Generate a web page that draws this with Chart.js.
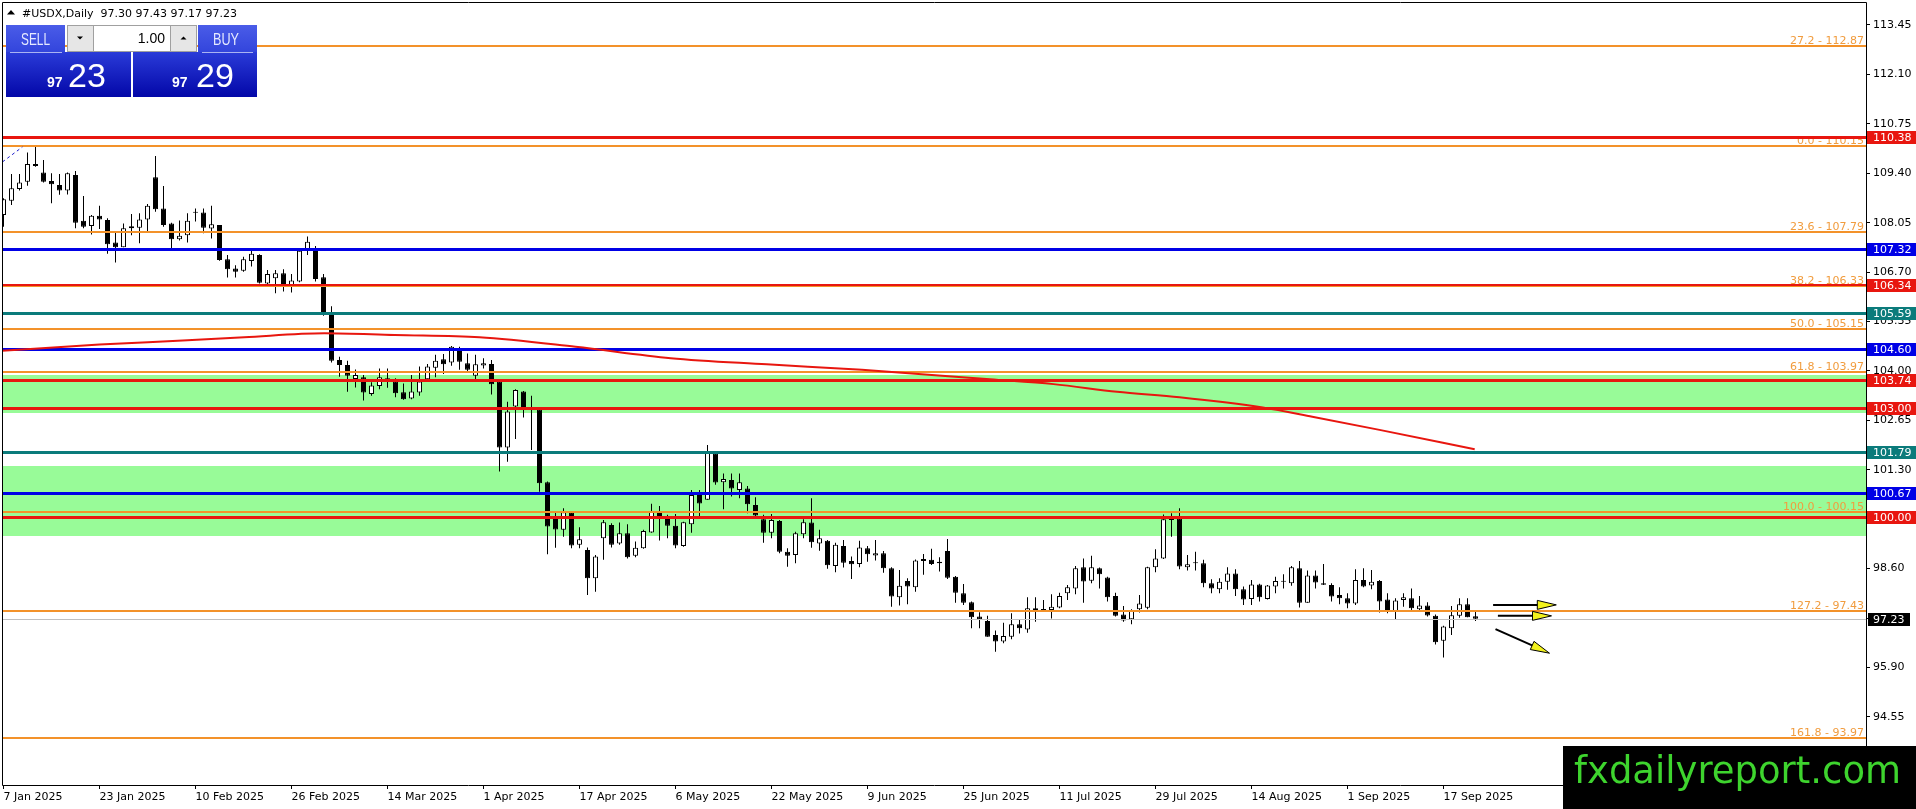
<!DOCTYPE html>
<html><head><meta charset="utf-8">
<script src="https://cdn.jsdelivr.net/npm/chart.js@4.4.1/dist/chart.umd.min.js"></script>
<style>
html,body{margin:0;padding:0;background:#fff;overflow:hidden}
#wrap{position:relative;width:1916px;height:809px}
#c{position:absolute;left:0;top:0}
#ov{position:absolute;left:0;top:0;pointer-events:none}
</style></head><body>
<div id="wrap">
<canvas id="c" width="1916" height="809"></canvas>
<svg id="ov" width="1916" height="809" xmlns="http://www.w3.org/2000/svg">
<defs>
<linearGradient id="gTab" x1="0" y1="0" x2="0" y2="1"><stop offset="0" stop-color="#4a5ce8"/><stop offset="1" stop-color="#3345dc"/></linearGradient>
<linearGradient id="gBody" x1="0" y1="0" x2="0" y2="1"><stop offset="0" stop-color="#2a3bd8"/><stop offset="1" stop-color="#0307a8"/></linearGradient>
</defs>
<polygon points="7,14.5 15,14.5 11,10" fill="#000"/>
<text id="hdr" x="22" y="17" font-family="DejaVu Sans" font-size="11" fill="#000" style="white-space:pre">#USDX,Daily</text>
<rect x="6" y="25" width="59" height="27" fill="url(#gTab)"/>
<rect x="6" y="52" width="125" height="45" fill="url(#gBody)"/>
<line x1="10" y1="52.5" x2="62" y2="52.5" stroke="#aab3f2"/>
<text x="21" y="45" font-family="Liberation Sans" font-size="17" fill="#e6eaff" textLength="29" lengthAdjust="spacingAndGlyphs">SELL</text>
<text x="47" y="87" fill="#fff"><tspan id="sellA" font-family="Liberation Sans" font-weight="bold" font-size="14">97</tspan><tspan id="sellB" x="68" font-family="Liberation Sans" font-size="34">23</tspan></text>
<rect x="67.5" y="25.5" width="129" height="26" fill="#fff" stroke="#a0a0a0"/>
<rect x="67.5" y="25.5" width="26" height="26" fill="#e6e6e6" stroke="#a0a0a0"/>
<rect x="170.5" y="25.5" width="26" height="26" fill="#e6e6e6" stroke="#a0a0a0"/>
<polygon points="77,36.5 83,36.5 80,39.5" fill="#000"/>
<polygon points="180.5,39.5 186.5,39.5 183.5,36.5" fill="#000"/>
<text x="165" y="43" text-anchor="end" font-family="Liberation Sans" font-size="14" fill="#000">1.00</text>
<rect x="198" y="25" width="59" height="27" fill="url(#gTab)"/>
<rect x="133" y="52" width="124" height="45" fill="url(#gBody)"/>
<line x1="202" y1="52.5" x2="253" y2="52.5" stroke="#aab3f2"/>
<text x="213" y="45" font-family="Liberation Sans" font-size="17" fill="#e6eaff" textLength="26" lengthAdjust="spacingAndGlyphs">BUY</text>
<text x="172" y="87" fill="#fff"><tspan id="buyA" font-family="Liberation Sans" font-weight="bold" font-size="14">97</tspan><tspan id="buyB" x="196" font-family="Liberation Sans" font-size="34">29</tspan></text>
<rect x="1563" y="746" width="353" height="63" fill="#000"/>
<text x="1574" y="783" font-family="DejaVu Sans" font-size="37" fill="#3ed42e" textLength="327" lengthAdjust="spacingAndGlyphs">fxdailyreport.com</text>
</svg>
</div>
<script>
// ---------- DATA ----------
const symbolName = '#USDX,Daily';
const xTickBars = [0,12,24,36,48,60,72,84,96,108,120,132,144,156,168,180];
const xTickLabels = ['7 Jan 2025','23 Jan 2025','10 Feb 2025','26 Feb 2025','14 Mar 2025','1 Apr 2025','17 Apr 2025','6 May 2025','22 May 2025','9 Jun 2025','25 Jun 2025','11 Jul 2025','29 Jul 2025','14 Aug 2025','1 Sep 2025','17 Sep 2025'];
const yTickValues = [113.45,112.10,110.75,109.40,108.05,106.70,105.35,104.00,102.65,101.30,99.95,98.60,97.25,95.90,94.55];

const opens = [108.26,108.65,108.97,109.17,109.65,109.42,109.19,109.08,108.93,109.35,108.10,107.96,108.24,108.12,107.51,107.38,107.90,107.91,108.14,109.29,
108.44,108.03,107.60,107.71,108.35,108.33,107.89,107.99,107.05,106.80,106.74,107.00,107.17,106.39,106.53,106.67,106.29,106.44,107.29,107.32,
106.56,105.56,104.30,104.16,103.78,103.83,103.37,103.59,103.80,103.71,103.42,103.25,103.41,103.77,104.09,104.32,104.23,104.57,104.21,103.87,
104.15,104.19,103.71,101.91,103.03,103.44,102.96,102.95,100.96,99.98,99.66,100.14,99.25,99.11,98.34,99.43,99.79,99.29,99.57,98.95,
99.16,99.59,100.16,99.98,99.77,99.22,99.81,100.68,100.48,101.75,100.96,101.02,100.75,100.79,100.34,99.95,99.58,99.90,99.06,98.97,
99.54,99.86,99.29,99.36,98.67,99.22,98.81,98.73,99.16,98.96,99.02,98.61,97.82,98.26,98.09,98.81,98.84,98.79,99.08,98.38,
97.93,97.68,97.29,97.17,96.79,96.61,96.74,97.08,96.94,97.52,97.47,97.47,97.54,97.93,98.06,98.64,98.27,98.61,98.36,97.85,
97.35,97.22,97.49,97.53,98.64,98.88,99.93,99.97,98.64,98.76,98.75,98.20,98.04,98.24,98.47,98.04,97.77,98.17,97.77,98.11,
98.24,98.20,98.61,97.67,98.41,98.20,98.15,97.88,97.79,97.65,98.29,98.14,98.26,97.76,97.43,97.74,97.79,97.49,97.59,97.31,
96.63,96.97,97.31,97.63,97.30];
const highs = [108.72,109.38,109.38,109.97,110.15,109.76,109.40,109.38,109.42,109.46,108.78,108.26,108.51,108.17,107.81,108.03,108.29,108.31,108.56,109.87,
109.05,108.05,108.11,108.31,108.44,108.44,108.51,107.99,107.17,106.89,107.12,107.30,107.19,106.76,106.76,106.78,106.65,107.30,107.67,107.41,
106.65,105.77,104.39,104.28,104.04,103.89,103.69,104.07,104.07,103.80,103.66,103.89,104.12,104.19,104.44,104.46,104.68,104.66,104.48,104.44,
104.35,104.30,103.74,103.16,103.50,103.45,103.32,102.97,100.98,100.13,100.25,100.16,99.73,99.18,98.97,99.93,99.84,99.86,99.81,99.34,
99.66,100.37,100.31,100.07,100.09,99.88,100.75,100.75,101.98,101.77,101.20,101.20,101.20,100.86,100.55,100.07,100.09,99.93,99.16,99.61,
99.95,100.52,99.66,99.38,99.31,99.38,98.93,99.36,99.22,99.38,99.08,98.64,98.56,98.34,98.85,99.00,99.14,98.91,99.41,98.40,
98.18,97.70,97.41,97.31,96.91,97.12,97.38,97.20,97.82,97.82,97.74,97.90,97.94,98.15,98.67,98.88,98.95,98.63,98.38,97.94,
97.58,97.49,97.88,98.65,99.13,100.08,100.11,100.25,98.97,99.06,98.84,98.31,98.34,98.64,98.58,98.11,98.29,98.19,98.15,98.38,
98.45,98.67,98.81,98.55,98.55,98.73,98.20,98.09,97.93,98.58,98.61,98.56,98.29,97.93,97.79,97.93,98.06,97.85,97.68,97.35,
97.04,97.58,97.79,97.79,97.43];
const lows = [107.94,108.53,108.93,109.06,109.58,109.15,108.58,108.81,108.82,107.90,107.90,107.73,107.88,107.20,106.96,107.38,107.71,107.49,107.81,108.35,
107.94,107.29,107.56,107.51,108.08,107.76,107.62,107.01,106.55,106.55,106.71,106.85,106.39,106.30,106.12,106.17,106.14,106.42,107.17,106.44,
105.51,104.23,103.84,103.43,103.55,103.19,103.32,103.50,103.54,103.28,103.21,103.23,103.32,103.75,103.83,103.92,104.14,104.03,103.98,103.77,
104.07,103.36,101.25,101.52,102.14,102.73,101.84,100.70,98.99,99.17,99.47,99.16,99.16,97.88,97.97,98.84,99.18,99.25,98.88,98.91,
99.14,99.58,99.37,99.43,99.16,99.20,99.58,100.04,100.48,100.89,100.22,100.57,100.52,100.11,100.04,99.31,99.43,99.02,98.65,98.75,
99.43,99.17,99.09,98.60,98.50,98.63,98.32,98.64,98.79,98.82,98.49,97.56,97.59,97.63,97.97,98.43,98.70,98.52,98.32,97.67,
97.61,96.97,96.97,96.74,96.33,96.56,96.67,96.83,96.85,97.15,97.43,97.24,97.52,97.74,97.90,97.67,98.20,98.06,97.70,97.29,
97.15,97.08,97.40,97.49,98.50,98.86,99.47,98.58,98.55,98.55,98.09,97.93,97.93,98.02,97.85,97.61,97.61,97.70,97.76,97.93,
98.06,98.13,97.54,97.67,98.06,98.15,97.70,97.63,97.52,97.61,98.09,98.04,97.40,97.38,97.22,97.56,97.47,97.47,97.29,96.53,
96.17,96.79,97.26,97.27,97.17];
const closes = [108.69,108.99,109.15,109.65,109.60,109.17,109.10,108.93,109.40,108.05,107.94,108.24,108.14,107.46,107.38,107.90,107.95,108.14,108.51,108.42,
107.99,107.60,107.69,108.10,108.32,107.91,108.01,107.03,106.78,106.71,107.05,107.20,106.41,106.65,106.67,106.29,106.47,107.28,107.53,106.51,
105.53,104.28,104.16,103.87,103.89,103.41,103.60,103.83,103.77,103.39,103.23,103.44,103.71,104.12,104.28,104.18,104.66,104.25,104.03,104.18,
104.21,103.64,101.91,102.89,103.48,102.95,102.94,100.93,99.75,99.67,100.14,99.23,99.40,98.34,98.93,99.87,99.25,99.57,98.91,99.17,
99.63,100.16,100.04,99.77,99.23,99.87,100.61,100.38,101.80,100.95,101.05,100.79,100.96,100.36,100.05,99.58,99.93,99.06,98.95,99.57,
99.87,99.32,99.43,98.69,99.25,98.76,98.72,99.18,98.99,99.02,98.61,97.84,98.13,98.11,98.82,98.86,98.73,98.75,98.35,97.94,
97.67,97.27,97.22,96.74,96.61,96.76,97.08,96.97,97.52,97.47,97.49,97.56,97.85,98.09,98.61,98.25,98.64,98.45,97.82,97.31,
97.18,97.47,97.65,98.64,98.88,99.95,99.99,98.66,98.72,98.75,98.20,98.06,98.24,98.47,98.04,97.76,98.17,97.82,98.14,98.26,
98.26,98.64,97.67,98.41,98.22,98.16,97.84,97.79,97.65,98.29,98.11,98.24,97.70,97.47,97.73,97.82,97.52,97.59,97.32,96.59,
97.02,97.33,97.63,97.27,97.23];

const maBars   = [-0.25, 12, 22.4, 30.1, 40.1, 48.9, 59.5, 71.5, 83.4, 95.4, 107.3, 123.3, 131.25, 139.2, 147, 157.4, 163.6, 172, 183.9];
const maValues = [104.55,104.72,104.83,104.92,105.03,104.98,104.92,104.66,104.35,104.18,104.03,103.77,103.64,103.43,103.28,103.00,102.75,102.39,101.86];

const trendBars = [-0.125, 2.375];
const trendValues = [109.71, 110.12];

const fibRatios = ['27.2','0.0','23.6','38.2','50.0','61.8','100.0','127.2','161.8'];
const fibPrices = [112.87,110.15,107.79,106.33,105.15,103.97,100.15,97.43,93.97];

const levelPrices = [110.38,107.32,106.34,105.59,104.60,103.74,103.00,101.79,100.67,100.00];
const levelKinds  = ['red','blue','redThin','teal','blue','red','red','teal','blue','red'];

const zoneTops    = [103.90, 101.40];
const zoneBottoms = [102.85, 99.49];

const bidPrice = 97.23;
const askPrice = 97.29;

const arrowFromBars   = [186.2, 186.8, 186.5];
const arrowFromPrices = [97.61, 97.31, 96.95];
const arrowToBars     = [194.1, 193.5, 193.25];
const arrowToPrices   = [97.61, 97.31, 96.29];

// ---------- STYLES ----------
const KIND = {
  red:     {color:'#e8160f', width:3},
  redThin: {color:'#e8160f', width:2},
  blue:    {color:'#0000e6', width:3},
  teal:    {color:'#0b7b7b', width:3}
};
const FIB_COLOR = '#f3922a';
const FIB_TEXT = '#f19c3e';
const ZONE_COLOR = '#98fb98';
const FONT = '11px "DejaVu Sans"';

// header & panel texts from data
const n = opens.length - 1;
document.getElementById('hdr').textContent = symbolName + '  ' + [opens[n],highs[n],lows[n],closes[n]].map(v=>v.toFixed(2)).join(' ');
const split = v => v.toFixed(2).split('.');
document.getElementById('sellA').textContent = split(bidPrice)[0];
document.getElementById('sellB').textContent = split(bidPrice)[1];
document.getElementById('buyA').textContent = split(askPrice)[0];
document.getElementById('buyB').textContent = split(askPrice)[1];

// ---------- PLUGINS ----------
function yPix(chart, p){ return Math.round(chart.scales.y.getPixelForValue(p)); }

const zonesPlugin = {
  id:'zones',
  beforeDatasetsDraw(chart){
    const {ctx, chartArea:a} = chart;
    ctx.save();
    ctx.fillStyle = ZONE_COLOR;
    for (let k=0;k<zoneTops.length;k++){
      const t = yPix(chart, zoneTops[k]), b = yPix(chart, zoneBottoms[k]);
      ctx.fillRect(a.left, t, a.right-a.left, b-t);
    }
    ctx.restore();
  }
};

function drawLevels(chart){
  const {ctx, chartArea:a} = chart;
  const w = a.right - a.left;
  ctx.save();
  ctx.fillStyle = '#c0c0c0';
  ctx.fillRect(a.left, yPix(chart,bidPrice), w, 1);
  ctx.font = FONT;
  ctx.textAlign = 'right';
  ctx.textBaseline = 'alphabetic';
  for (let k=0;k<fibPrices.length;k++){
    const y = yPix(chart, fibPrices[k]);
    ctx.fillStyle = FIB_COLOR;
    ctx.fillRect(a.left, y-1, w, 2);
  }
  for (let k=0;k<fibPrices.length;k++){
    const y = yPix(chart, fibPrices[k]);
    ctx.fillStyle = FIB_TEXT;
    ctx.fillText(fibRatios[k] + ' - ' + fibPrices[k].toFixed(2), a.right-2, y-2);
  }
  for (let k=0;k<levelPrices.length;k++){
    const s = KIND[levelKinds[k]];
    const y = yPix(chart, levelPrices[k]);
    ctx.fillStyle = s.color;
    ctx.fillRect(a.left, y - Math.floor(s.width/2), w, s.width);
  }
  ctx.restore();
}

const levelsPlugin = {
  id:'levels',
  beforeDatasetDraw(chart, args){
    if (chart.data.datasets[args.index].id === 'trend') drawLevels(chart);
  },
  afterDatasetsDraw(chart){
    const {ctx, chartArea:a} = chart;
    ctx.save();
    const xs = chart.scales.x, ys = chart.scales.y;
    for (let k=0;k<arrowFromBars.length;k++){
      const x1 = xs.getPixelForValue(arrowFromBars[k]), y1 = ys.getPixelForValue(arrowFromPrices[k]);
      const x2 = xs.getPixelForValue(arrowToBars[k]),   y2 = ys.getPixelForValue(arrowToPrices[k]);
      const dx = x2-x1, dy = y2-y1, L = Math.hypot(dx,dy), ux = dx/L, uy = dy/L;
      const hl = 19, hw = 4.5;
      const bx = x2 - ux*hl, by = y2 - uy*hl;
      ctx.strokeStyle = '#000'; ctx.lineWidth = 2;
      ctx.beginPath(); ctx.moveTo(x1,y1); ctx.lineTo(bx+ux*3,by+uy*3); ctx.stroke();
      ctx.beginPath();
      ctx.moveTo(x2,y2);
      ctx.lineTo(bx - uy*hw, by + ux*hw);
      ctx.lineTo(bx + uy*hw, by - ux*hw);
      ctx.closePath();
      ctx.fillStyle = '#f2f21c'; ctx.fill();
      ctx.lineWidth = 1; ctx.strokeStyle = '#000'; ctx.stroke();
    }
    ctx.font = FONT;
    ctx.textAlign = 'left';
    ctx.textBaseline = 'middle';
    for (let k=0;k<levelPrices.length;k++){
      const y = yPix(chart, levelPrices[k]);
      ctx.fillStyle = KIND[levelKinds[k]].color;
      ctx.fillRect(a.right+1, y-6, 1916-a.right-1, 13);
      ctx.fillStyle = '#fff';
      ctx.fillText(levelPrices[k].toFixed(2), a.right+7, y+1);
    }
    const yb = yPix(chart, bidPrice);
    ctx.fillStyle = '#000';
    ctx.fillRect(a.right+2, yb-6, 42, 13);
    ctx.fillStyle = '#fff';
    ctx.fillText(bidPrice.toFixed(2), a.right+7, yb+1);
    ctx.restore();
  },
  afterDraw(chart){
    const {ctx, chartArea:a} = chart;
    ctx.save();
    ctx.strokeStyle = '#000'; ctx.lineWidth = 1;
    ctx.beginPath();
    ctx.moveTo(a.left+0.5, a.top+0.5); ctx.lineTo(a.right+0.5, a.top+0.5);
    ctx.moveTo(a.left+0.5, a.top+0.5); ctx.lineTo(a.left+0.5, a.bottom+0.5);
    ctx.moveTo(a.right+0.5, a.top+0.5); ctx.lineTo(a.right+0.5, a.bottom+0.5);
    ctx.moveTo(a.left+0.5, a.bottom+0.5); ctx.lineTo(a.right+0.5, a.bottom+0.5);
    ctx.stroke();
    ctx.restore();
  }
};

// ---------- CHART ----------
const idx = opens.map((_, i) => i);
const bodyColors = idx.map(i => closes[i] >= opens[i] ? '#ffffff' : '#000000');

Chart.defaults.font.family = '"DejaVu Sans"';
Chart.defaults.font.size = 11;
Chart.defaults.color = '#000';

new Chart(document.getElementById('c'), {
  type: 'bar',
  data: {
    datasets: [
      { id:'wicks', type:'bar', order:3, grouped:false,
        data: idx.map(i => ({x:i, y:[lows[i], highs[i]]})),
        backgroundColor:'#000', borderWidth:0, barThickness:1, inflateAmount:0, minBarLength:1 },
      { id:'bodies', type:'bar', order:2, grouped:false,
        data: idx.map(i => ({x:i, y:[opens[i], closes[i]]})),
        backgroundColor: bodyColors, borderColor:'#000', borderWidth:1, borderSkipped:false,
        barThickness:5, inflateAmount:0, minBarLength:1 },
      { id:'trend', type:'line', order:1,
        data: trendBars.map((b,k)=>({x:b, y:trendValues[k]})),
        borderColor:'#1a1acc', borderWidth:1, borderDash:[3,3], pointRadius:0, fill:false },
      { id:'ma', type:'line', order:0,
        data: maBars.map((b,k)=>({x:b, y:maValues[k]})),
        borderColor:'#e8160f', borderWidth:2, pointRadius:0, fill:false, cubicInterpolationMode:'monotone' }
    ]
  },
  options: {
    responsive:false, maintainAspectRatio:false, animation:false, events:[],
    layout:{ padding:{left:2, top:2, right:0, bottom:0}, autoPadding:false },
    plugins:{ legend:{display:false}, tooltip:{enabled:false} },
    scales:{
      x:{ type:'linear', position:'bottom', min:-0.1875, max:232.8125, offset:false,
          grid:{ display:true, drawOnChartArea:false, drawTicks:true, tickLength:4, color:'#000', offset:false },
          border:{display:false},
          ticks:{ autoSkip:false, maxRotation:0, minRotation:0, align:'start', padding:2, color:'#000',
                  font:{family:'"DejaVu Sans"', size:11},
                  callback:(v, i) => xTickLabels[i] },
          afterBuildTicks: s => { s.ticks = xTickBars.map(v => ({value:v})); },
          afterFit: s => { s.height = 24; s.paddingLeft = 0; s.paddingRight = 0; s.paddingTop = 0; s.paddingBottom = 0; } },
      y:{ type:'linear', position:'right', min:92.69, max:114.078, beginAtZero:false,
          grid:{ display:true, drawOnChartArea:false, drawTicks:true, tickLength:4, color:'#000' },
          border:{display:false},
          ticks:{ autoSkip:false, padding:3, color:'#000', font:{family:'"DejaVu Sans"', size:11},
                  callback: v => Number(v).toFixed(2) },
          afterBuildTicks: s => { s.ticks = yTickValues.map(v => ({value:v})); },
          afterFit: s => { s.width = 50; s.paddingTop = 0; s.paddingBottom = 0; s.paddingLeft = 0; s.paddingRight = 0; } }
    }
  },
  plugins:[zonesPlugin, levelsPlugin]
});
</script>
</body></html>
